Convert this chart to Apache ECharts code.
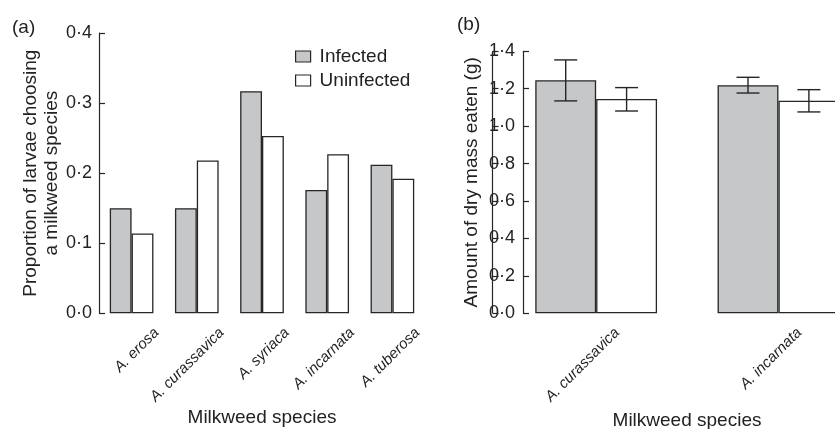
<!DOCTYPE html>
<html>
<head>
<meta charset="utf-8">
<script src="https://cdn.jsdelivr.net/npm/echarts@6/dist/echarts.min.js"></script>
<style>
  html, body { margin: 0; padding: 0; background: #fff; }
  #chart { width: 835px; height: 429px; }
</style>
</head>
<body>
<div id="chart"></div>
<script>
// panel (a): proportion of larvae choosing each species
var aSpecies = ['A. erosa', 'A. curassavica', 'A. syriaca', 'A. incarnata', 'A. tuberosa'];
var aInfected = [0.150, 0.150, 0.317, 0.176, 0.212];
var aUninfected = [0.114, 0.218, 0.253, 0.227, 0.192];

// panel (b): dry mass eaten, with error bars
var bSpecies = ['A. curassavica', 'A. incarnata'];
var bInfected = [1.245, 1.219];
var bUninfected = [1.145, 1.136];
var bInfLow = [1.135, 1.177];
var bInfHigh = [1.354, 1.261];
var bUninfLow = [1.081, 1.076];
var bUninfHigh = [1.206, 1.195];
var bTicks = [0, 0.2, 0.4, 0.6, 0.8, 1.0, 1.2, 1.4];

var FONT = 'Liberation Sans, Arial, sans-serif';
var INK = '#222';
var GREY = '#c6c7c9';
var EDGE = '#262626';

function dotFmt(v) {
    return v.toFixed(1).replace('.', '·');
}

// (b) uses a value x axis (panel is cut off at the right edge), one unit per species
function pairs(vals) {
    var out = [];
    for (var i = 0; i < vals.length; i++) out.push([i, vals[i]]);
    return out;
}

function errData(lo, hi) {
    var out = [];
    for (var i = 0; i < lo.length; i++) out.push([i, lo[i], hi[i]]);
    return out;
}

// draws vertical error bar with caps, shifted to the left/right bar of the pair
function errRender(shiftFrac) {
    return function(params, api) {
        var x = api.value(0);
        var lo = api.coord([x, api.value(1)]);
        var hi = api.coord([x, api.value(2)]);
        var unit = api.size([1, 0])[0];
        var cx = lo[0] + unit * shiftFrac;
        var cap = 11.5;
        var st = { stroke: EDGE, lineWidth: 1.4 };
        return {
            type: 'group',
            children: [
                { type: 'line', shape: { x1: cx, y1: hi[1], x2: cx, y2: lo[1] }, style: st },
                { type: 'line', shape: { x1: cx - cap, y1: hi[1], x2: cx + cap, y2: hi[1] }, style: st },
                { type: 'line', shape: { x1: cx - cap, y1: lo[1], x2: cx + cap, y2: lo[1] }, style: st }
            ]
        };
    };
}

var catLabel = {
    rotate: 45, margin: 17, fontSize: 15, fontStyle: 'italic',
    fontFamily: FONT, color: INK, interval: 0
};

var bUnit = 182.3;          // px per species in (b)
var bMin = -0.5 + 18 / bUnit;
var bYMax = 1.4;
var tickLen = 6 / bUnit;

// (b) y axis line + inward ticks as mark lines (the native ones do not show in this layout)
function bAxisMarks() {
    var out = [[{ coord: [bMin, 0] }, { coord: [bMin, bYMax] }]];
    bTicks.forEach(function(t) {
        out.push([{ coord: [bMin, t] }, { coord: [bMin + tickLen, t] }]);
    });
    return out;
}

var chart = echarts.init(document.getElementById('chart'));
chart.setOption({
    backgroundColor: '#fff',
    animation: false,
    title: [
        { text: '(a)', left: 12, top: 18, padding: 0,
          textStyle: { fontSize: 19, fontWeight: 'normal', fontFamily: FONT, color: INK } },
        { text: '(b)', left: 457, top: 15, padding: 0,
          textStyle: { fontSize: 19, fontWeight: 'normal', fontFamily: FONT, color: INK } }
    ],
    legend: {
        data: ['Infected', 'Uninfected'],
        orient: 'vertical',
        left: 295,
        top: 47,
        padding: 0,
        itemGap: 5,
        itemWidth: 15,
        itemHeight: 11,
        icon: 'rect',
        selectedMode: false,
        itemStyle: { borderColor: EDGE, borderWidth: 1.2 },
        textStyle: { fontSize: 19, fontFamily: FONT, color: INK, padding: [0, 0, 0, 4] }
    },
    grid: [
        { left: 99, top: 33, width: 326, height: 280.3, outerBoundsMode: 'none' },
        { left: 523, top: 51.3, width: 312, height: 262, outerBoundsMode: 'none' },
        // label-only grid for (a), shifted right like the original tick text
        { left: 124, top: 33, width: 326, height: 280.3, outerBoundsMode: 'none' }
    ],
    xAxis: [
        { type: 'category', gridIndex: 0, data: aSpecies,
          axisLine: { show: false }, axisTick: { show: false }, axisLabel: { show: false },
          name: 'Milkweed species', nameLocation: 'middle', nameGap: 95,
          nameTextStyle: { fontSize: 19, fontFamily: FONT, color: INK } },
        { type: 'value', gridIndex: 1, min: bMin, max: bMin + 312 / bUnit,
          splitLine: { show: false }, axisLine: { show: false, onZero: false }, axisTick: { show: false },
          axisLabel: Object.assign({}, catLabel, {
              customValues: [0.115, 1.115],
              formatter: function(v) { return bSpecies[Math.round(v)]; }
          }),
          name: 'Milkweed species', nameLocation: 'middle', nameGap: 95,
          nameTextStyle: { fontSize: 19, fontFamily: FONT, color: INK, padding: [0, 0, 0, 16] } },
        { type: 'category', gridIndex: 2, data: aSpecies,
          axisLine: { show: false }, axisTick: { show: false }, axisLabel: catLabel }
    ],
    yAxis: [
        { type: 'value', gridIndex: 0, min: 0, max: 0.4, interval: 0.1,
          splitLine: { show: false },
          axisLine: { show: true, onZero: false, lineStyle: { color: EDGE, width: 1.2 } },
          axisTick: { show: true, inside: true, length: 6, lineStyle: { color: EDGE, width: 1.2 } },
          axisLabel: { margin: 7, fontSize: 18, fontFamily: FONT, color: INK, formatter: dotFmt },
          name: 'Proportion of larvae choosing\na milkweed species',
          nameLocation: 'middle', nameGap: 27,
          nameTextStyle: { fontSize: 19, fontFamily: FONT, color: INK, lineHeight: 21 } },
        { type: 'value', gridIndex: 1, min: 0, max: bYMax, interval: 0.2,
          splitLine: { show: false },
          axisLine: { show: true, onZero: false, lineStyle: { color: EDGE, width: 1.2 } },
          axisTick: { show: true, inside: true, length: 6, lineStyle: { color: EDGE, width: 1.2 } },
          axisLabel: { margin: 8, fontSize: 18, fontFamily: FONT, color: INK, formatter: dotFmt },
          name: 'Amount of dry mass eaten (g)',
          nameLocation: 'middle', nameGap: 42,
          nameTextStyle: { fontSize: 19, fontFamily: FONT, color: INK } },
        { type: 'value', gridIndex: 2, show: false }
    ],
    series: [
        { name: 'Infected', type: 'bar', xAxisIndex: 0, yAxisIndex: 0, data: aInfected,
          barGap: '0%', barCategoryGap: '33%', silent: true,
          itemStyle: { color: GREY, borderColor: EDGE, borderWidth: 1.3 } },
        { name: 'Uninfected', type: 'bar', xAxisIndex: 0, yAxisIndex: 0, data: aUninfected,
          barGap: '0%', barCategoryGap: '33%', silent: true,
          itemStyle: { color: '#fff', borderColor: EDGE, borderWidth: 1.3 } },
        { name: 'Infected', type: 'bar', xAxisIndex: 1, yAxisIndex: 1, data: pairs(bInfected),
          barGap: '0%', barCategoryGap: '33.2%', silent: true, clip: false,
          itemStyle: { color: GREY, borderColor: EDGE, borderWidth: 1.3 },
          markLine: {
              silent: true, symbol: 'none', label: { show: false },
              lineStyle: { color: EDGE, width: 1.2, type: 'solid' },
              emphasis: { disabled: true },
              data: bAxisMarks()
          } },
        { name: 'Uninfected', type: 'bar', xAxisIndex: 1, yAxisIndex: 1, data: pairs(bUninfected),
          barGap: '0%', barCategoryGap: '33.2%', silent: true,
          itemStyle: { color: '#fff', borderColor: EDGE, borderWidth: 1.3 } },
        { name: 'errInf', type: 'custom', xAxisIndex: 1, yAxisIndex: 1, silent: true,
          renderItem: errRender(-0.167), data: errData(bInfLow, bInfHigh), z: 5 },
        { name: 'errUninf', type: 'custom', xAxisIndex: 1, yAxisIndex: 1, silent: true,
          renderItem: errRender(0.167), data: errData(bUninfLow, bUninfHigh), z: 5 }
    ]
});
</script>
</body>
</html>
